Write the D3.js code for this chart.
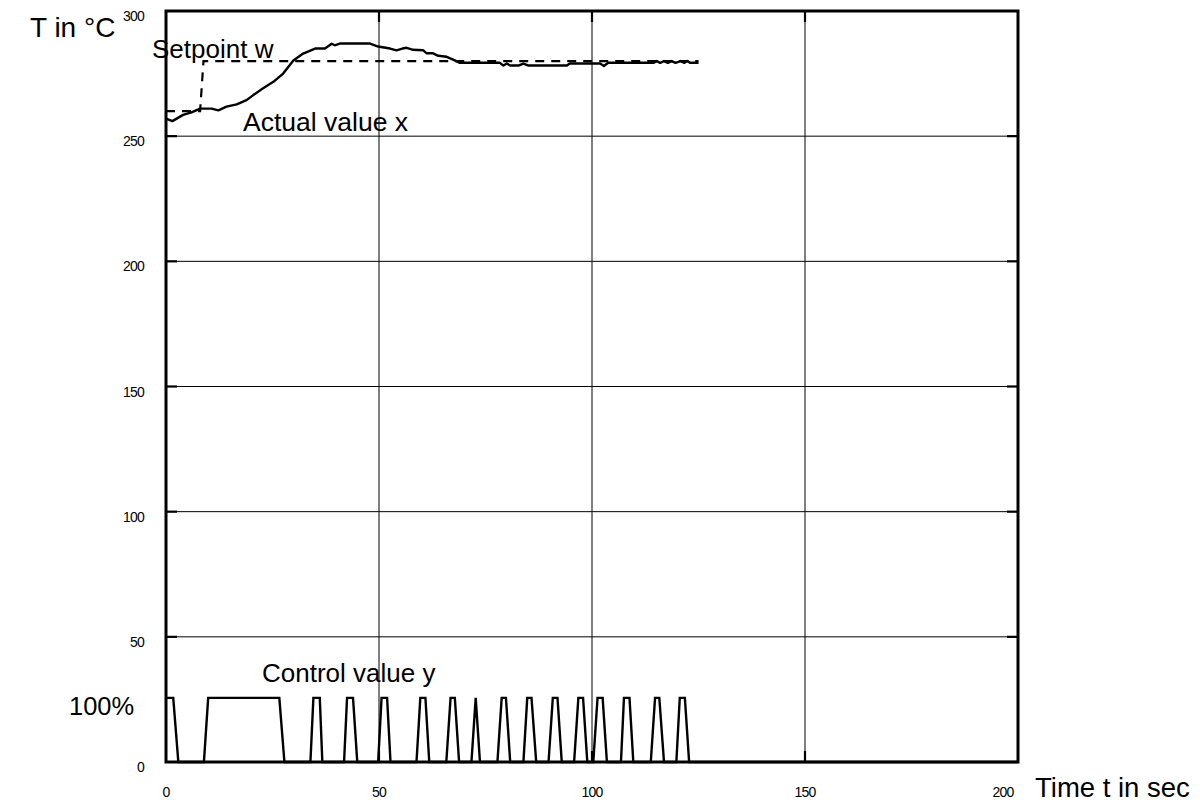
<!DOCTYPE html>
<html>
<head>
<meta charset="utf-8">
<script src="https://cdn.jsdelivr.net/npm/d3@7"></script>
<style>
  html, body { margin: 0; padding: 0; background: #fff; }
  svg { display: block; font-family: "Liberation Sans", Arial, Helvetica, sans-serif; }
</style>
</head>
<body>
<svg id="chart" width="1200" height="810"></svg>
<script>
// Temperature step response with two-point controller output

// Time axis ticks (s) and temperature axis ticks (°C)
const xTicks = [0, 50, 100, 150, 200];
const yTicks = [0, 50, 100, 150, 200, 250, 300];

// Setpoint w (°C)
const setpointT = [0, 8, 8.8, 125];
const setpointV = [260, 260, 280, 280];

// Actual value x (°C)
const actualT = [0, 1.5, 4, 6, 8, 10.7, 12.3, 14.2, 16.6, 18.9, 20.5, 22.8, 25.2, 27.5, 29.9,
  32.2, 35, 37.3, 38.9, 39.6, 40.8, 47.9, 49.8, 52.6, 54.1, 55.5, 56.5, 58, 60.4, 61.2, 62.7,
  63.9, 65.9, 67.4, 69, 78.4, 79.2, 80, 80.8, 82.7, 83.9, 85.1, 94.1, 94.8, 101.9, 102.8, 103.8,
  114.4, 115.2, 116, 116.9, 117.8, 118.7, 119.6, 120.8, 121.7, 122.4, 123, 125];
const actualV = [257, 256, 258.5, 259.5, 261, 261, 260.3, 261.8, 262.7, 264.4, 266.4, 269.1, 271.7, 275, 280.2,
  283, 285, 285, 286.9, 286.3, 287, 287, 285.8, 285, 284.3, 285, 285.3, 284.5, 284.3, 283.1, 283.1,
  282.1, 281.7, 280.6, 279.3, 279.3, 278.2, 279, 278.2, 278.2, 279, 278.2, 278.2, 279, 279, 278, 279.3,
  279.3, 280, 279.3, 280, 279.3, 280, 279.3, 280, 279.3, 280, 279.3, 279.3];

// Control value y (%)
const ctrlT = [0, 1.7, 2.9, 8.9, 9.9, 26.6, 27.8,
  33.9, 34.6, 36.1, 36.7, 41.8, 42.5, 43.9, 44.9, 49.8, 50.6, 51.9, 52.7,
  58.8, 59.7, 60.9, 61.8, 65.8, 66.8, 67.8, 68.8, 71.7, 72.7, 73.7,
  77.8, 78.8, 79.8, 80.8, 83.9, 84.8, 85.8, 86.9, 89.8, 90.8, 91.9, 92.9,
  95.8, 96.8, 97.9, 98.9, 100.3, 101.3, 102.5, 103.5, 106.8, 107.5, 108.8, 109.7,
  113.8, 114.8, 115.8, 116.9, 119.8, 120.6, 121.8, 122.8, 200];
const ctrlV = [100, 100, 0, 0, 100, 100, 0,
  0, 100, 100, 0, 0, 100, 100, 0, 0, 100, 100, 0,
  0, 100, 100, 0, 0, 100, 100, 0, 0, 100, 0,
  0, 100, 100, 0, 0, 100, 100, 0, 0, 100, 100, 0,
  0, 100, 100, 0, 0, 100, 100, 0, 0, 100, 100, 0,
  0, 100, 100, 0, 0, 100, 100, 0, 0];

const svg = d3.select("#chart");
const plotL = 166, plotR = 1018, plotT = 11, plotB = 762;

const x = d3.scaleLinear().domain([0, 200]).range([plotL, plotR]);
const y = d3.scaleLinear().domain([0, 300]).range([plotB, plotT]);
// 100 % output is drawn at the height of 25.6 °C
const yc = d3.scaleLinear().domain([0, 100]).range([y(0), y(25.6)]);

// grid
const grid = svg.append("g").attr("stroke", "#000").attr("stroke-width", 1);
grid.selectAll("line.v").data(xTicks.slice(1, -1)).join("line")
  .attr("x1", d => x(d)).attr("x2", d => x(d)).attr("y1", plotT).attr("y2", plotB);
grid.selectAll("line.h").data(yTicks.slice(1, -1)).join("line")
  .attr("y1", d => y(d)).attr("y2", d => y(d)).attr("x1", plotL).attr("x2", plotR);

// inward tick marks on all four sides
const tickLen = 11;
const ticks = svg.append("g").attr("stroke", "#000").attr("stroke-width", 2.2);
xTicks.slice(1, -1).forEach(d => {
  ticks.append("line").attr("x1", x(d)).attr("x2", x(d)).attr("y1", plotT).attr("y2", plotT + tickLen);
  ticks.append("line").attr("x1", x(d)).attr("x2", x(d)).attr("y1", plotB).attr("y2", plotB - tickLen);
});
yTicks.slice(1, -1).forEach(d => {
  ticks.append("line").attr("y1", y(d)).attr("y2", y(d)).attr("x1", plotL).attr("x2", plotL + tickLen);
  ticks.append("line").attr("y1", y(d)).attr("y2", y(d)).attr("x1", plotR).attr("x2", plotR - tickLen);
});

// series
const setpointLine = d3.line().x((d, i) => x(setpointT[i])).y(d => y(d));
svg.append("path").datum(setpointV)
  .attr("d", setpointLine)
  .attr("fill", "none").attr("stroke", "#000").attr("stroke-width", 2.2)
  .attr("stroke-dasharray", "9,7");

const actualLine = d3.line().x((d, i) => x(actualT[i])).y(d => y(d));
svg.append("path").datum(actualV)
  .attr("d", actualLine)
  .attr("fill", "none").attr("stroke", "#000").attr("stroke-width", 2.4)
  .attr("stroke-linejoin", "round");

const ctrlLine = d3.line().x((d, i) => x(ctrlT[i])).y(d => yc(d));
svg.append("path").datum(ctrlV)
  .attr("d", ctrlLine)
  .attr("fill", "none").attr("stroke", "#000").attr("stroke-width", 2.4)
  .attr("stroke-linejoin", "miter");

// frame
svg.append("rect")
  .attr("x", plotL).attr("y", plotT).attr("width", plotR - plotL).attr("height", plotB - plotT)
  .attr("fill", "none").attr("stroke", "#000").attr("stroke-width", 3);

// tick labels
svg.append("g").selectAll("text").data(yTicks).join("text")
  .attr("x", plotL - 22).attr("y", d => y(d) + 10)
  .attr("text-anchor", "end").attr("font-size", 14).attr("letter-spacing", -0.8)
  .text(d => d);
svg.append("g").selectAll("text").data(xTicks).join("text")
  .attr("x", d => x(d) + (d === 200 ? -15 : 0)).attr("y", 797)
  .attr("text-anchor", "middle").attr("font-size", 14).attr("letter-spacing", -0.8)
  .text(d => d);

// axis titles and series labels
const label = (tx, ty, s, fs) => svg.append("text")
  .attr("x", tx).attr("y", ty).attr("font-size", fs).attr("fill", "#000").text(s);
label(30, 37, "T in °C", 28);
label(1035, 797, "Time t in sec", 27.5);
label(69, 715, "100%", 25.5);
label(152, 58, "Setpoint w", 26);
label(243, 131, "Actual value x", 26.5);
label(262, 682, "Control value y", 26);
</script>
</body>
</html>
